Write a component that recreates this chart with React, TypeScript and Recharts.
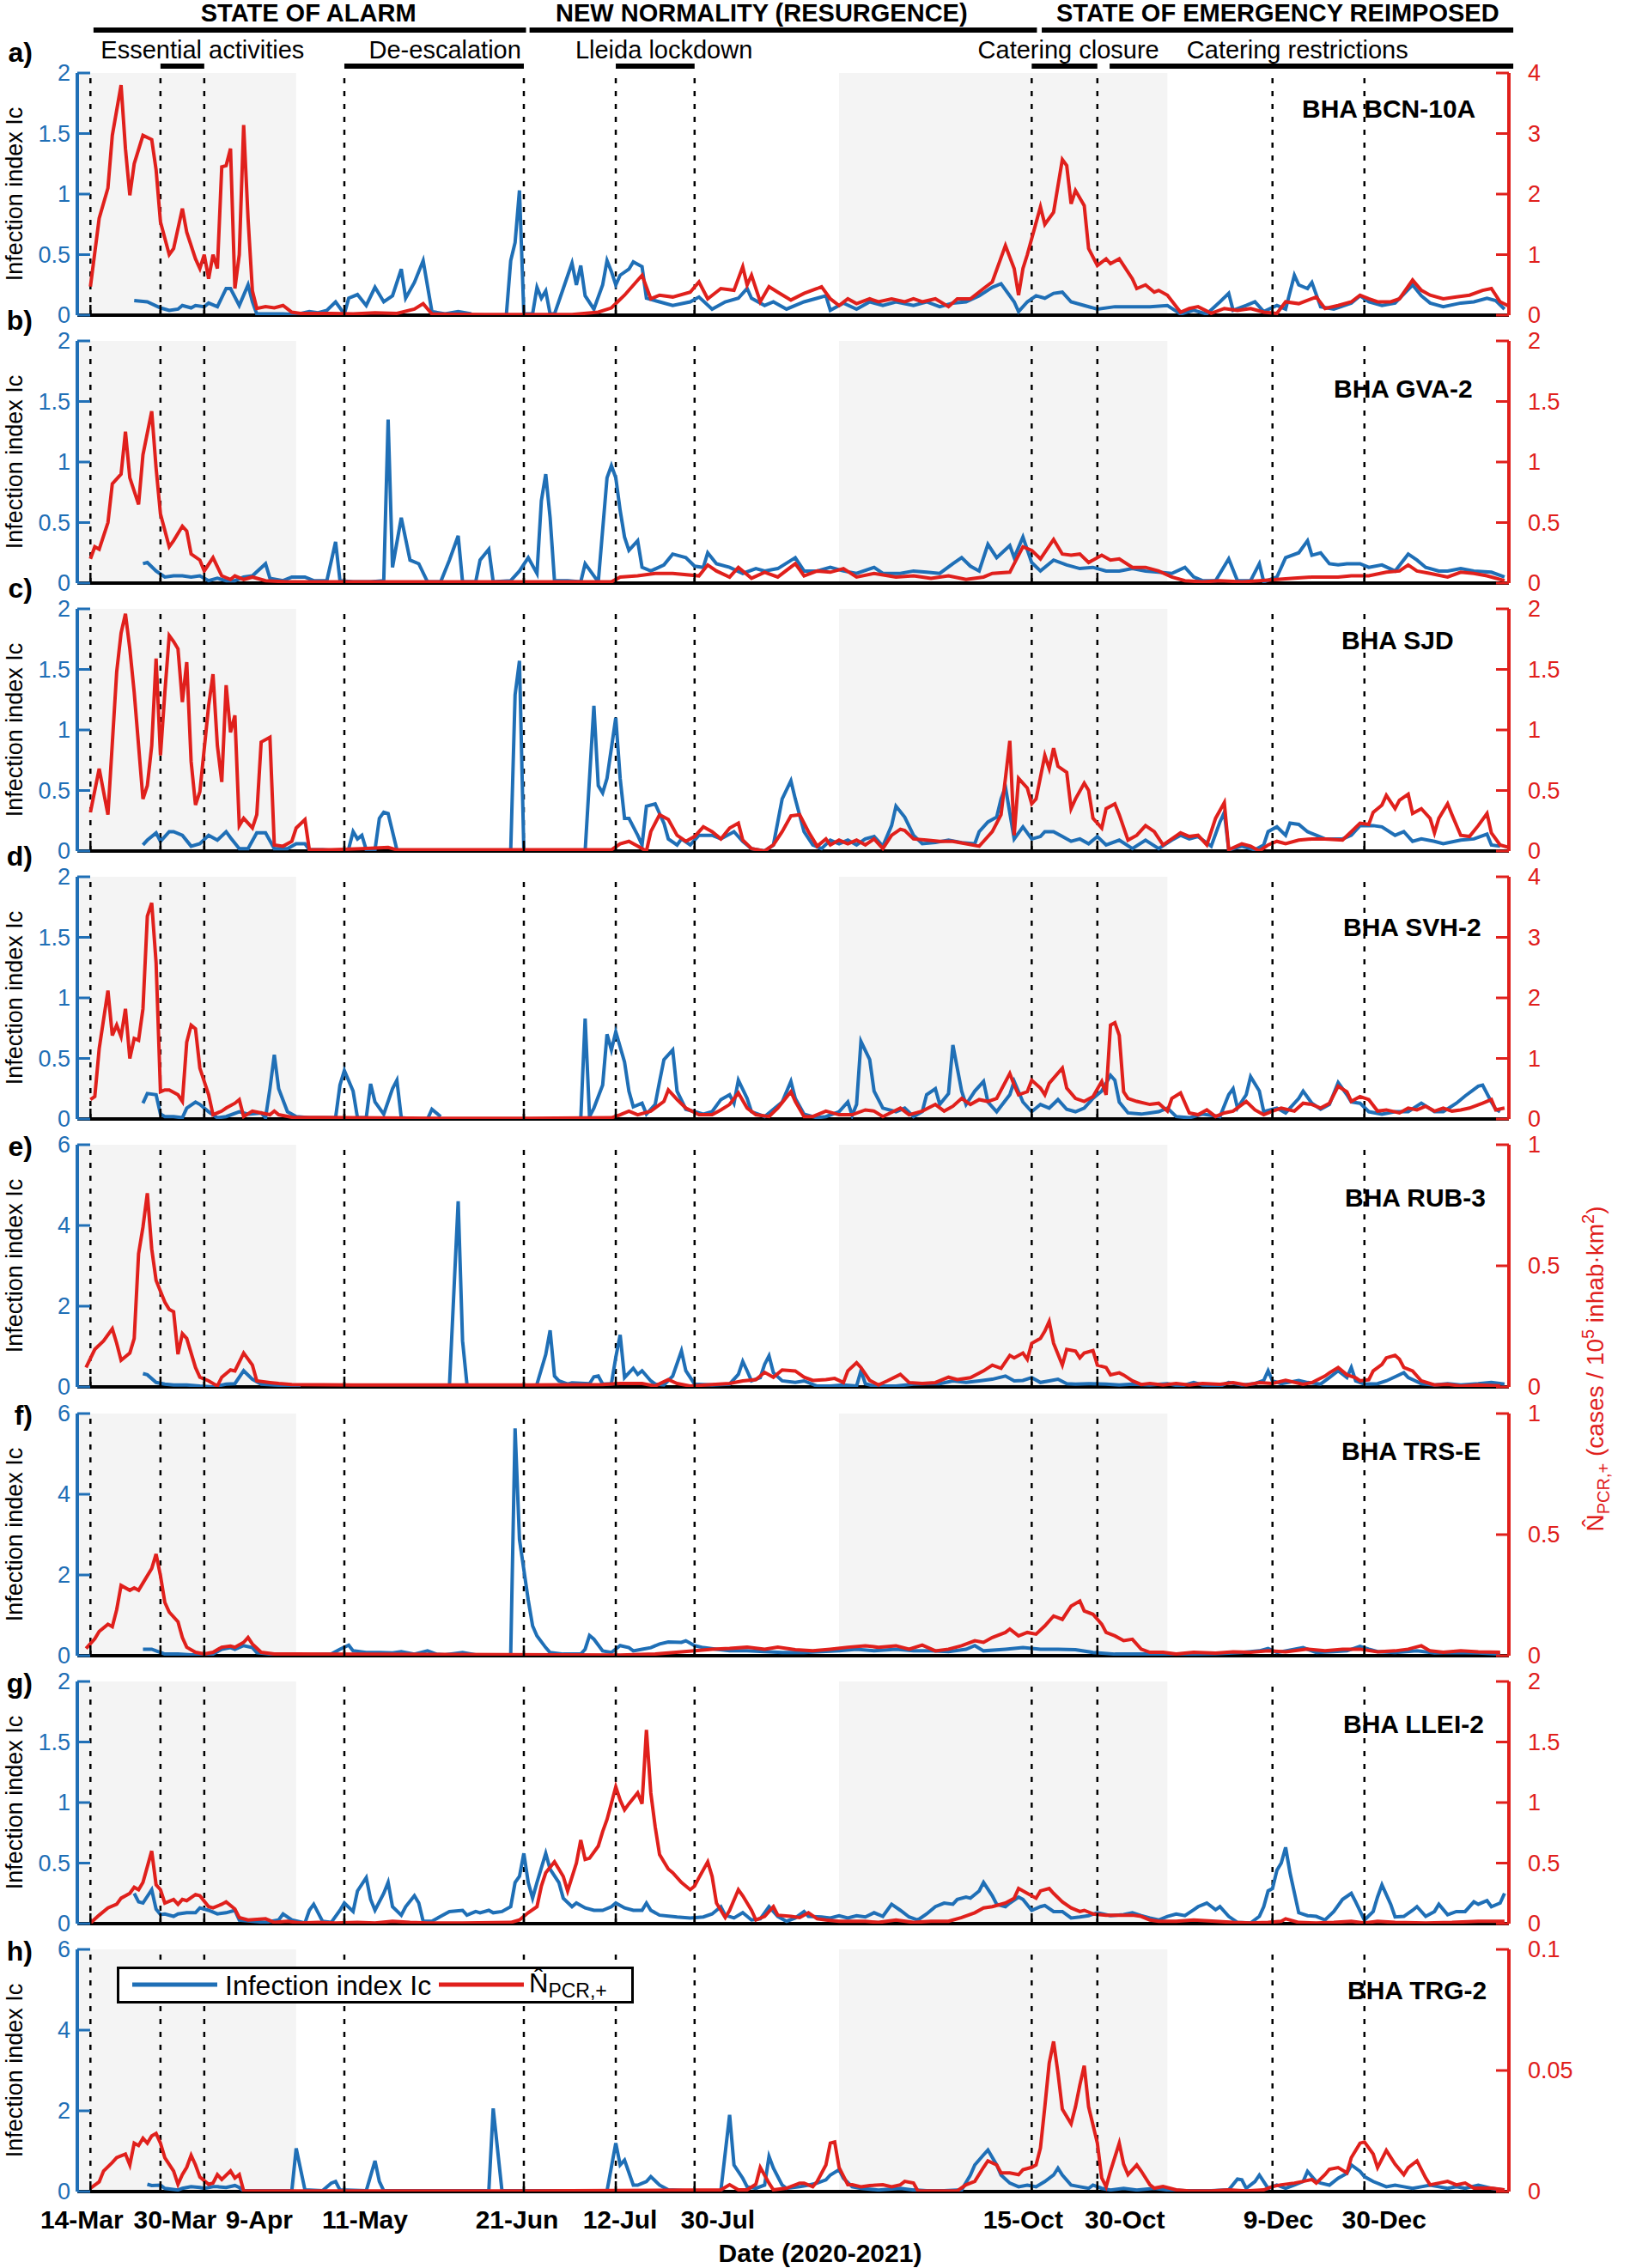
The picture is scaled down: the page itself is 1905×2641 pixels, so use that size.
import React from 'react';
import { ComposedChart, Line, XAxis, YAxis, ReferenceLine, ReferenceArea, Legend } from 'recharts';

type Pt = [number, number | null];

// days counted from 14-Mar-2020
const TICK_DAYS = [0, 16, 26, 58, 99, 120, 138, 215, 230, 270, 291];
const TICK_LABELS = ['14-Mar', '30-Mar', '9-Apr', '11-May', '21-Jun', '12-Jul', '30-Jul', '15-Oct', '30-Oct', '9-Dec', '30-Dec'];
const SHADED: [number, number][] = [[-3, 47], [171, 246]];

const PERIODS = ['STATE OF ALARM', 'NEW NORMALITY (RESURGENCE)', 'STATE OF EMERGENCY REIMPOSED'];
const PERIOD_SPANS: [number, number][] = [[0.7, 99.5], [100.3, 216.2], [217.3, 325]];
const PERIOD_MID = [49.8, 153.3, 271.2];
const MEASURES = ['Essential activities', 'De-escalation', 'Lleida lockdown', 'Catering closure', 'Catering restrictions'];
const MEASURE_SPANS: [number, number][] = [[16, 26], [58, 99], [120, 138], [215, 230], [232.8, 325]];
const MEASURE_MID = [25.6, 81, 131, 223.4, 275.7];

const bcnIc: Pt[] = [[10,0.12],[13,0.11],[16,0.06],[18,0.04],[20,0.05],[21,0.08],[23,0.06],[24,0.08],[26,0.07],[27,0.1],[29,0.07],[31,0.22],[32,0.22],[34,0.08],[36,0.25],[37,0.11],[38,0.01],[44,0.01],[47,0.005],[50,0.03],[52,0.02],[54,0.04],[56,0.11],[58,0.01],[59,0.14],[61,0.17],[63,0.08],[65,0.23],[67,0.11],[69,0.16],[71,0.38],[72,0.14],[74,0.27],[76,0.45],[78,0.03],[81,0.01],[84,0.03],[87,0.01],[88,null],[95,0.0],[96,0.45],[97,0.6],[98,1.03],[99,0.01],[101,0.01],[102,0.23],[103,0.14],[104,0.2],[105,0.01],[106,0.01],[108,0.22],[110,0.43],[111,0.25],[112,0.41],[113,0.16],[115,0.05],[117,0.25],[118,0.45],[119,0.36],[120,0.25],[121,0.33],[123,0.38],[124,0.44],[126,0.4],[127,0.14],[130,0.11],[133,0.08],[137,0.11],[139,0.15],[142,0.05],[145,0.11],[148,0.14],[150,0.22],[151,0.14],[154,0.08],[156,0.11],[159,0.05],[163,0.11],[166,0.14],[168,0.16],[169,0.04],[172,0.1],[175,0.05],[178,0.11],[181,0.08],[184,0.11],[188,0.08],[191,0.11],[194,0.07],[197,0.1],[200,0.11],[203,0.16],[206,0.23],[208,0.26],[211,0.11],[212,0.03],[214,0.11],[216,0.16],[218,0.14],[220,0.18],[222,0.19],[224,0.11],[227,0.08],[230,0.05],[234,0.07],[238,0.07],[242,0.07],[246,0.08],[249,0.01],[252,0.04],[255,0.01],[258,0.11],[260,0.18],[261,0.04],[264,0.08],[266,0.11],[268,0.03],[271,0.08],[273,0.05],[275,0.33],[276,0.25],[278,0.22],[279,0.27],[281,0.07],[284,0.05],[288,0.1],[290,0.16],[292,0.11],[295,0.08],[298,0.1],[302,0.25],[304,0.16],[306,0.1],[309,0.07],[313,0.1],[316,0.11],[319,0.14],[321,0.12],[323,0.05]];
const bcnN: Pt[] = [[0,0.47],[2,1.6],[4,2.1],[5,2.97],[7,3.8],[8,2.75],[9,1.98],[10,2.5],[12,2.97],[14,2.9],[15,2.4],[16,1.54],[18,1.0],[19,1.1],[21,1.76],[22,1.37],[24,0.93],[25,0.77],[26,1.0],[27,0.6],[28,1.0],[29,0.77],[30,2.45],[31,2.47],[32,2.75],[33,0.44],[34,1.0],[35,3.14],[36,1.6],[37,0.4],[38,0.11],[40,0.14],[42,0.12],[44,0.16],[46,0.05],[48,0.03],[55,0.03],[60,0.02],[65,0.04],[70,0.03],[74,0.1],[76,0.19],[78,0.02],[90,0.01],[100,0.01],[110,0.01],[116,0.05],[119,0.12],[122,0.33],[126,0.66],[128,0.27],[130,0.33],[133,0.3],[137,0.38],[139,0.55],[141,0.27],[144,0.44],[147,0.41],[149,0.8],[150,0.5],[151,0.66],[153,0.22],[155,0.47],[157,0.38],[160,0.25],[163,0.36],[166,0.44],[167,0.47],[169,0.27],[171,0.16],[173,0.27],[175,0.19],[178,0.27],[180,0.22],[183,0.27],[186,0.22],[188,0.27],[190,0.22],[193,0.27],[196,0.14],[198,0.27],[201,0.27],[204,0.44],[206,0.55],[209,1.15],[211,0.77],[212,0.33],[213,0.77],[214,1.0],[217,1.79],[218,1.5],[220,1.7],[222,2.57],[223,2.47],[224,1.84],[225,2.06],[227,1.81],[228,1.1],[230,0.82],[232,0.93],[233,0.85],[235,0.93],[238,0.6],[239,0.44],[241,0.5],[243,0.38],[244,0.41],[246,0.33],[249,0.05],[251,0.11],[253,0.14],[256,0.03],[259,0.11],[262,0.08],[265,0.11],[268,0.05],[271,0.03],[273,0.22],[276,0.19],[280,0.3],[282,0.11],[285,0.16],[288,0.22],[290,0.33],[292,0.27],[294,0.22],[297,0.22],[299,0.27],[302,0.58],[304,0.41],[306,0.33],[309,0.27],[312,0.3],[315,0.33],[318,0.41],[320,0.44],[322,0.22],[324,0.15]];

const gvaIc: Pt[] = [[12,0.16],[13,0.17],[15,0.1],[17,0.05],[19,0.06],[21,0.06],[23,0.05],[25,0.06],[27,0.02],[29,0.04],[31,0.02],[33,0.02],[35,0.05],[37,0.06],[40,0.16],[41,0.04],[44,0.02],[46,0.05],[49,0.05],[51,0.02],[54,0.02],[56,0.34],[57,0.02],[60,0.01],[64,0.01],[67,0.02],[68,1.35],[69,0.13],[71,0.54],[73,0.19],[75,0.16],[77,0.01],[80,0.01],[82,0.19],[84,0.39],[85,0.01],[88,0.01],[89,0.19],[91,0.28],[92,0.01],[96,0.02],[98,0.1],[100,0.21],[102,0.08],[103,0.68],[104,0.9],[105,0.54],[106,0.02],[109,0.02],[112,0.01],[113,0.16],[116,0.01],[118,0.87],[119,0.97],[120,0.87],[121,0.6],[122,0.38],[123,0.27],[125,0.35],[126,0.13],[128,0.1],[131,0.15],[133,0.24],[136,0.21],[138,0.14],[140,0.13],[141,0.25],[143,0.16],[146,0.13],[149,0.08],[152,0.12],[154,0.1],[157,0.12],[161,0.21],[163,0.1],[166,0.1],[169,0.13],[172,0.1],[175,0.08],[179,0.13],[181,0.08],[185,0.08],[188,0.1],[191,0.09],[194,0.08],[197,0.16],[199,0.21],[201,0.14],[203,0.1],[205,0.32],[207,0.21],[210,0.31],[211,0.21],[213,0.38],[215,0.17],[217,0.1],[220,0.19],[223,0.15],[226,0.12],[229,0.13],[232,0.1],[235,0.1],[238,0.12],[241,0.1],[244,0.09],[247,0.08],[250,0.13],[252,0.05],[254,0.02],[257,0.02],[260,0.2],[262,0.02],[265,0.02],[267,0.16],[268,0.01],[271,0.05],[273,0.21],[276,0.25],[278,0.35],[279,0.23],[281,0.25],[283,0.16],[285,0.15],[287,0.16],[290,0.16],[292,0.13],[295,0.15],[298,0.1],[301,0.24],[303,0.19],[305,0.13],[308,0.1],[310,0.1],[313,0.12],[316,0.1],[320,0.09],[323,0.05]];
const gvaN: Pt[] = [[0,0.2],[1,0.3],[2,0.28],[4,0.5],[5,0.82],[7,0.9],[8,1.25],[9,0.87],[11,0.65],[12,1.06],[14,1.42],[15,0.95],[16,0.57],[18,0.3],[19,0.35],[21,0.47],[22,0.43],[23,0.24],[25,0.19],[26,0.1],[28,0.21],[30,0.06],[32,0.03],[33,0.06],[35,0.03],[37,0.05],[40,0.02],[45,0.01],[60,0.01],[80,0.01],[100,0.01],[119,0.01],[121,0.05],[125,0.06],[129,0.08],[133,0.08],[139,0.06],[141,0.15],[143,0.1],[146,0.05],[148,0.13],[151,0.04],[154,0.09],[157,0.05],[161,0.16],[163,0.06],[166,0.1],[169,0.09],[172,0.12],[175,0.05],[179,0.08],[184,0.05],[188,0.06],[192,0.04],[196,0.06],[200,0.03],[204,0.05],[206,0.08],[210,0.09],[213,0.3],[215,0.27],[217,0.2],[220,0.36],[222,0.24],[224,0.23],[226,0.24],[228,0.17],[231,0.23],[233,0.19],[235,0.2],[238,0.13],[241,0.13],[244,0.1],[247,0.05],[250,0.02],[254,0.01],[258,0.02],[263,0.01],[267,0.02],[271,0.03],[275,0.04],[279,0.05],[285,0.05],[288,0.06],[292,0.06],[296,0.09],[299,0.1],[301,0.15],[303,0.1],[306,0.08],[310,0.05],[313,0.09],[316,0.08],[319,0.06],[323,0.02]];

const sjdIc: Pt[] = [[12,0.05],[13,0.09],[15,0.15],[16,0.08],[18,0.16],[19,0.16],[21,0.13],[23,0.04],[25,0.06],[27,0.13],[29,0.09],[31,0.16],[32,0.11],[34,0.02],[36,0.02],[38,0.15],[40,0.15],[42,0.02],[45,0.02],[47,0.06],[49,0.06],[50,0.01],[53,0.01],[57,0.0],[59,0.02],[60,0.16],[61,0.1],[62,0.13],[63,0.01],[65,0.01],[66,0.27],[67,0.32],[68,0.31],[70,0.01],[72,null],[96,0.0],[97,1.29],[98,1.57],[99,0.0],[100,null],[113,0.0],[115,1.2],[116,0.54],[117,0.48],[118,0.6],[120,1.1],[121,0.6],[122,0.27],[123,0.27],[125,0.13],[126,0.05],[127,0.37],[129,0.39],[131,0.23],[132,0.1],[134,0.05],[135,0.1],[137,0.05],[139,0.13],[142,0.13],[144,0.1],[147,0.16],[149,0.08],[151,0.02],[154,0.0],[156,0.05],[158,0.43],[160,0.58],[161,0.43],[163,0.16],[165,0.05],[167,0.02],[169,0.09],[171,0.06],[173,0.09],[175,0.05],[177,0.1],[179,0.12],[181,0.04],[183,0.21],[184,0.37],[186,0.28],[188,0.13],[190,0.06],[193,0.07],[196,0.09],[199,0.07],[202,0.06],[203,0.16],[205,0.24],[207,0.28],[208,0.43],[209,0.53],[211,0.1],[213,0.2],[215,0.1],[217,0.12],[218,0.16],[220,0.16],[222,0.12],[224,0.08],[226,0.1],[228,0.06],[230,0.12],[232,0.05],[235,0.09],[238,0.02],[241,0.09],[244,0.02],[247,0.09],[249,0.13],[251,0.1],[253,0.12],[256,0.04],[258,0.24],[259,0.32],[260,0.01],[263,0.04],[266,0.01],[268,0.05],[269,0.16],[271,0.2],[273,0.13],[274,0.23],[276,0.22],[278,0.16],[280,0.13],[282,0.1],[286,0.1],[288,0.13],[290,0.21],[293,0.21],[295,0.2],[298,0.13],[300,0.16],[302,0.08],[304,0.1],[307,0.08],[309,0.06],[313,0.09],[316,0.1],[319,0.14],[320,0.05],[322,0.04]];
const sjdN: Pt[] = [[0,0.32],[2,0.68],[4,0.3],[6,1.48],[7,1.8],[8,1.96],[9,1.67],[10,1.31],[12,0.43],[13,0.54],[14,0.87],[15,1.59],[16,0.79],[17,1.31],[18,1.78],[19,1.73],[20,1.67],[21,1.23],[22,1.56],[23,0.74],[24,0.38],[25,0.49],[27,1.2],[28,1.46],[29,0.87],[30,0.57],[31,1.37],[32,0.98],[33,1.12],[34,0.21],[35,0.27],[37,0.19],[38,0.3],[39,0.9],[41,0.94],[42,0.05],[44,0.04],[46,0.08],[47,0.19],[49,0.26],[50,0.01],[55,0.01],[62,0.02],[68,0.03],[70,0.01],[90,0.01],[119,0.01],[121,0.06],[123,0.08],[125,0.04],[127,0.0],[128,0.16],[130,0.3],[132,0.26],[134,0.13],[136,0.08],[138,0.12],[140,0.2],[142,0.16],[144,0.1],[146,0.19],[148,0.23],[149,0.09],[151,0.02],[154,0.0],[156,0.05],[158,0.16],[160,0.29],[162,0.3],[164,0.16],[166,0.04],[168,0.1],[169,0.05],[171,0.09],[173,0.06],[175,0.09],[177,0.05],[179,0.1],[181,0.02],[183,0.13],[185,0.18],[186,0.17],[188,0.1],[191,0.09],[194,0.08],[197,0.08],[200,0.06],[203,0.04],[204,0.08],[206,0.16],[208,0.3],[209,0.6],[210,0.91],[211,0.13],[212,0.6],[214,0.52],[215,0.39],[216,0.43],[218,0.79],[219,0.68],[220,0.85],[221,0.7],[223,0.65],[224,0.35],[225,0.43],[227,0.56],[228,0.5],[229,0.27],[231,0.19],[232,0.35],[234,0.39],[235,0.3],[237,0.09],[239,0.13],[241,0.21],[243,0.16],[245,0.05],[247,0.1],[249,0.15],[251,0.12],[253,0.13],[255,0.05],[257,0.27],[259,0.4],[260,0.01],[263,0.06],[265,0.04],[267,0.0],[269,0.05],[271,0.08],[273,0.06],[276,0.09],[279,0.1],[282,0.1],[286,0.09],[288,0.16],[290,0.23],[292,0.22],[293,0.32],[295,0.38],[296,0.46],[298,0.35],[299,0.42],[301,0.47],[302,0.31],[304,0.35],[306,0.27],[307,0.15],[308,0.27],[310,0.39],[311,0.3],[313,0.13],[315,0.12],[317,0.21],[319,0.31],[320,0.15],[322,0.05],[324,0.03]];

const svhIc: Pt[] = [[12,0.13],[13,0.21],[15,0.2],[16,0.04],[17,0.02],[19,0.02],[21,0.01],[22,0.09],[24,0.14],[25,0.12],[27,0.06],[29,0.01],[31,0.02],[34,0.06],[36,0.04],[39,0.05],[40,0.01],[41,0.25],[42,0.53],[43,0.25],[45,0.06],[47,0.02],[50,0.01],[53,0.01],[56,0.01],[57,0.28],[58,0.4],[60,0.23],[61,0.01],[63,0.01],[64,0.29],[65,0.14],[67,0.04],[69,0.25],[70,0.32],[71,0.01],[74,0.0],[77,0.0],[78,0.08],[80,0.02],[81,null],[112,0.0],[113,0.83],[114,0.02],[115,0.09],[117,0.28],[118,0.7],[119,0.57],[120,0.72],[122,0.47],[123,0.23],[124,0.1],[126,0.13],[127,0.04],[129,0.12],[130,0.31],[131,0.49],[133,0.57],[134,0.23],[136,0.08],[138,0.06],[140,0.04],[142,0.06],[144,0.16],[146,0.2],[147,0.13],[148,0.32],[150,0.17],[151,0.06],[154,0.02],[156,0.08],[158,0.14],[160,0.31],[161,0.17],[163,0.04],[166,0.01],[168,0.02],[171,0.06],[173,0.14],[174,0.03],[175,0.12],[176,0.64],[178,0.49],[179,0.23],[181,0.09],[184,0.06],[186,0.09],[188,0.02],[190,0.06],[191,0.2],[193,0.25],[194,0.12],[196,0.21],[197,0.61],[199,0.23],[200,0.12],[202,0.23],[204,0.31],[205,0.14],[207,0.06],[210,0.2],[211,0.31],[213,0.14],[215,0.06],[217,0.12],[219,0.09],[221,0.16],[223,0.08],[225,0.06],[227,0.09],[229,0.17],[231,0.23],[233,0.36],[234,0.32],[235,0.14],[237,0.05],[240,0.04],[242,0.05],[244,0.06],[246,0.09],[248,0.02],[251,0.01],[254,0.04],[258,0.02],[260,0.2],[261,0.25],[262,0.09],[264,0.2],[265,0.35],[267,0.23],[268,0.06],[271,0.09],[273,0.05],[276,0.17],[277,0.23],[279,0.13],[281,0.08],[283,0.12],[285,0.3],[287,0.2],[288,0.14],[290,0.13],[292,0.06],[295,0.04],[298,0.06],[301,0.06],[304,0.13],[307,0.06],[309,0.06],[312,0.13],[314,0.19],[317,0.27],[318,0.28],[320,0.14],[321,0.08],[322,0.06]];
const svhN: Pt[] = [[0,0.32],[1,0.37],[2,1.16],[4,2.12],[5,1.38],[6,1.55],[7,1.36],[8,1.82],[9,1.0],[10,1.33],[11,1.3],[12,1.82],[13,3.35],[14,3.57],[15,2.58],[16,0.45],[17,0.48],[18,0.48],[20,0.4],[21,0.29],[22,1.27],[23,1.55],[24,1.49],[25,0.84],[27,0.4],[28,0.07],[30,0.13],[31,0.18],[33,0.26],[34,0.32],[35,0.04],[37,0.13],[39,0.1],[41,0.07],[42,0.13],[43,0.07],[46,0.03],[60,0.02],[80,0.01],[100,0.01],[119,0.02],[121,0.07],[123,0.13],[125,0.07],[128,0.13],[131,0.29],[132,0.48],[134,0.32],[136,0.18],[139,0.07],[142,0.07],[144,0.15],[146,0.24],[148,0.43],[150,0.18],[152,0.07],[155,0.04],[157,0.18],[160,0.45],[161,0.29],[163,0.04],[165,0.04],[168,0.13],[171,0.07],[174,0.07],[177,0.15],[179,0.13],[181,0.04],[185,0.18],[187,0.07],[190,0.13],[193,0.24],[195,0.13],[197,0.21],[199,0.34],[201,0.24],[203,0.32],[205,0.29],[207,0.34],[210,0.75],[211,0.56],[212,0.4],[214,0.45],[215,0.64],[217,0.51],[218,0.4],[219,0.59],[222,0.84],[223,0.51],[225,0.34],[227,0.29],[229,0.37],[231,0.62],[232,0.4],[233,1.55],[234,1.59],[235,1.38],[236,0.45],[237,0.34],[239,0.29],[242,0.24],[244,0.26],[246,0.13],[247,0.34],[249,0.43],[251,0.1],[253,0.07],[255,0.15],[257,0.04],[259,0.1],[261,0.13],[264,0.29],[266,0.15],[268,0.07],[270,0.13],[272,0.18],[275,0.13],[277,0.26],[279,0.24],[281,0.18],[283,0.26],[285,0.54],[287,0.45],[288,0.29],[290,0.37],[292,0.32],[294,0.13],[296,0.15],[299,0.1],[301,0.18],[303,0.15],[305,0.21],[307,0.13],[309,0.18],[311,0.13],[313,0.15],[315,0.18],[318,0.26],[320,0.32],[321,0.15],[323,0.18]];

const rubIc: Pt[] = [[12,0.33],[13,0.3],[15,0.11],[17,0.07],[19,0.05],[22,0.05],[25,0.02],[28,0.0],[31,0.07],[33,0.08],[35,0.4],[37,0.19],[39,0.07],[42,0.05],[46,0.02],[48,0.0],[49,null],[82,0.02],[84,4.6],[85,1.14],[86,0.07],[87,null],[102,0.07],[104,0.8],[105,1.4],[106,0.27],[107,0.15],[109,0.07],[110,0.1],[114,0.08],[115,0.25],[116,0.27],[117,0.07],[119,0.08],[120,0.73],[121,1.29],[122,0.23],[123,0.35],[124,0.46],[125,0.31],[126,0.4],[128,0.15],[129,0.07],[131,0.05],[133,0.27],[135,0.89],[136,0.4],[138,0.07],[142,0.05],[146,0.07],[148,0.31],[149,0.63],[150,0.4],[151,0.15],[153,0.23],[154,0.56],[155,0.77],[156,0.35],[158,0.15],[161,0.11],[163,0.15],[166,0.02],[169,0.02],[172,0.05],[175,0.02],[176,0.4],[177,0.08],[179,0.02],[184,0.02],[188,0.07],[191,0.08],[194,0.08],[197,0.15],[200,0.11],[203,0.15],[206,0.19],[209,0.27],[211,0.15],[213,0.16],[215,0.23],[217,0.11],[219,0.15],[221,0.19],[223,0.08],[225,0.07],[228,0.08],[232,0.07],[235,0.05],[238,0.07],[242,0.05],[246,0.08],[249,0.02],[252,0.11],[254,0.05],[258,0.02],[260,0.11],[263,0.05],[266,0.08],[268,0.16],[269,0.4],[270,0.15],[272,0.08],[276,0.16],[278,0.11],[281,0.07],[283,0.23],[285,0.4],[287,0.23],[288,0.48],[289,0.15],[291,0.07],[294,0.08],[296,0.15],[298,0.25],[300,0.35],[301,0.23],[304,0.08],[307,0.05],[310,0.08],[313,0.05],[317,0.08],[320,0.11],[323,0.07]];
const rubN: Pt[] = [[-1,0.08],[1,0.155],[3,0.19],[5,0.24],[6,0.18],[7,0.11],[9,0.14],[10,0.2],[11,0.55],[12,0.66],[13,0.8],[14,0.57],[15,0.44],[17,0.35],[18,0.32],[19,0.31],[20,0.135],[21,0.22],[22,0.2],[24,0.08],[25,0.04],[27,0.025],[29,0.004],[30,0.04],[32,0.07],[33,0.066],[35,0.14],[37,0.09],[38,0.025],[41,0.018],[43,0.014],[46,0.01],[60,0.008],[80,0.008],[100,0.008],[117,0.01],[121,0.014],[126,0.014],[129,0.004],[132,0.03],[134,0.014],[137,0.004],[142,0.01],[146,0.014],[149,0.025],[152,0.03],[154,0.06],[156,0.04],[158,0.07],[161,0.066],[163,0.04],[165,0.027],[168,0.03],[170,0.035],[172,0.018],[173,0.066],[175,0.1],[176,0.08],[178,0.027],[180,0.008],[182,0.025],[185,0.052],[187,0.018],[190,0.014],[193,0.018],[196,0.04],[198,0.03],[201,0.038],[204,0.066],[206,0.09],[208,0.077],[210,0.13],[211,0.12],[213,0.14],[214,0.114],[215,0.18],[217,0.2],[218,0.23],[219,0.27],[220,0.18],[222,0.09],[223,0.155],[225,0.148],[226,0.12],[227,0.14],[229,0.15],[230,0.09],[232,0.08],[233,0.05],[235,0.058],[236,0.049],[238,0.025],[240,0.01],[242,0.014],[245,0.008],[248,0.014],[251,0.008],[254,0.014],[258,0.011],[261,0.018],[264,0.008],[267,0.018],[270,0.014],[273,0.027],[277,0.011],[279,0.018],[282,0.045],[283,0.058],[285,0.08],[287,0.05],[289,0.038],[290,0.025],[292,0.03],[293,0.066],[295,0.093],[296,0.12],[298,0.13],[299,0.114],[300,0.08],[302,0.066],[304,0.025],[307,0.008],[310,0.011],[313,0.004],[317,0.008],[322,0.004]];

const trsIc: Pt[] = [[12,0.16],[14,0.16],[15,0.12],[17,0.04],[20,0.04],[23,0.02],[26,0.02],[28,0.04],[30,0.16],[32,0.2],[33,0.16],[35,0.25],[37,0.2],[38,0.08],[41,0.04],[45,0.02],[50,0.02],[55,0.04],[57,0.16],[59,0.26],[60,0.12],[63,0.08],[66,0.08],[69,0.07],[71,0.1],[74,0.04],[77,0.12],[79,0.04],[81,0.02],[85,0.08],[88,0.02],[96,0.02],[97,5.63],[98,2.88],[100,1.38],[101,0.74],[102,0.49],[104,0.2],[105,0.08],[108,0.04],[112,0.04],[113,0.16],[114,0.5],[115,0.41],[117,0.12],[119,0.08],[121,0.25],[123,0.2],[124,0.12],[126,0.16],[128,0.2],[130,0.29],[132,0.34],[135,0.33],[136,0.37],[138,0.25],[140,0.2],[143,0.16],[146,0.12],[150,0.12],[154,0.1],[158,0.08],[163,0.08],[167,0.1],[171,0.12],[175,0.16],[179,0.12],[184,0.16],[188,0.12],[192,0.12],[196,0.1],[200,0.16],[202,0.25],[204,0.12],[209,0.16],[213,0.2],[217,0.16],[221,0.16],[225,0.15],[229,0.08],[234,0.04],[238,0.04],[244,0.04],[250,0.04],[257,0.05],[263,0.08],[267,0.12],[269,0.18],[271,0.08],[273,0.12],[277,0.2],[280,0.08],[284,0.1],[287,0.12],[290,0.23],[292,0.16],[294,0.1],[298,0.08],[303,0.12],[307,0.07],[311,0.08],[317,0.07],[322,0.04]];
const trsN: Pt[] = [[-1,0.03],[1,0.07],[2,0.1],[4,0.13],[5,0.12],[6,0.19],[7,0.29],[9,0.27],[10,0.28],[11,0.27],[12,0.3],[14,0.36],[15,0.42],[16,0.33],[17,0.22],[18,0.18],[20,0.14],[21,0.075],[22,0.035],[24,0.014],[26,0.007],[28,0.014],[30,0.035],[32,0.04],[33,0.035],[35,0.055],[36,0.075],[37,0.048],[39,0.014],[42,0.007],[46,0.007],[80,0.005],[121,0.003],[129,0.007],[138,0.02],[142,0.027],[146,0.03],[150,0.035],[154,0.027],[157,0.035],[161,0.025],[165,0.02],[169,0.027],[173,0.035],[177,0.041],[180,0.035],[184,0.041],[187,0.027],[190,0.044],[193,0.02],[196,0.027],[199,0.041],[202,0.062],[204,0.055],[206,0.075],[209,0.096],[210,0.11],[212,0.082],[214,0.096],[216,0.089],[218,0.123],[220,0.164],[222,0.15],[224,0.205],[226,0.226],[227,0.185],[229,0.171],[231,0.13],[232,0.096],[234,0.082],[236,0.062],[238,0.068],[240,0.027],[242,0.014],[245,0.014],[248,0.007],[252,0.014],[257,0.011],[261,0.016],[265,0.014],[269,0.02],[273,0.016],[278,0.027],[282,0.02],[286,0.027],[290,0.027],[294,0.016],[298,0.02],[301,0.027],[304,0.041],[306,0.02],[309,0.014],[313,0.02],[317,0.016],[322,0.014]];

const lleiIc: Pt[] = [[10,0.25],[11,0.18],[12,0.17],[14,0.28],[15,0.12],[16,0.075],[17,0.08],[19,0.06],[20,0.08],[22,0.09],[24,0.09],[25,0.13],[27,0.11],[29,0.08],[31,0.09],[33,0.11],[34,0.03],[37,0.02],[40,0.01],[43,0.03],[44,0.08],[46,0.03],[49,0.005],[50,0.11],[51,0.16],[53,0.02],[55,0.01],[57,0.11],[58,0.17],[60,0.1],[61,0.27],[63,0.38],[64,0.2],[65,0.11],[67,0.25],[68,0.34],[69,0.14],[71,0.07],[72,0.14],[74,0.23],[75,0.17],[76,0.02],[78,0.02],[80,0.06],[82,0.1],[85,0.11],[86,0.07],[88,0.1],[89,0.09],[91,0.11],[92,0.09],[94,0.1],[96,0.14],[97,0.34],[98,0.39],[99,0.58],[100,0.34],[101,0.21],[102,0.34],[104,0.58],[105,0.45],[107,0.34],[108,0.21],[110,0.14],[111,0.17],[113,0.13],[115,0.11],[117,0.11],[119,0.14],[120,0.17],[122,0.13],[124,0.11],[126,0.11],[127,0.17],[128,0.11],[130,0.07],[134,0.055],[137,0.047],[140,0.055],[142,0.08],[144,0.14],[145,0.07],[147,0.047],[149,0.09],[151,0.03],[153,0.04],[154,0.09],[155,0.14],[157,0.06],[159,0.02],[161,0.047],[163,0.1],[164,0.06],[167,0.055],[169,0.047],[171,0.066],[173,0.047],[175,0.066],[177,0.055],[179,0.09],[181,0.06],[183,0.16],[185,0.11],[187,0.055],[189,0.03],[191,0.08],[193,0.14],[195,0.17],[197,0.16],[198,0.2],[200,0.22],[201,0.21],[203,0.27],[204,0.34],[206,0.23],[207,0.16],[209,0.14],[210,0.17],[212,0.22],[213,0.2],[215,0.11],[217,0.14],[218,0.15],[220,0.1],[222,0.1],[224,0.047],[226,0.055],[228,0.066],[230,0.09],[233,0.066],[236,0.074],[238,0.09],[240,0.066],[242,0.047],[244,0.03],[246,0.06],[248,0.08],[250,0.066],[252,0.115],[253,0.14],[255,0.17],[257,0.115],[258,0.14],[260,0.06],[262,0.01],[265,0.005],[267,0.06],[268,0.14],[269,0.27],[270,0.29],[271,0.44],[272,0.5],[273,0.63],[274,0.42],[276,0.09],[278,0.066],[280,0.06],[282,0.03],[284,0.1],[286,0.2],[288,0.25],[289,0.18],[291,0.03],[293,0.1],[294,0.22],[295,0.32],[297,0.16],[298,0.055],[300,0.06],[302,0.11],[303,0.14],[305,0.06],[307,0.1],[308,0.16],[310,0.074],[312,0.1],[314,0.1],[316,0.18],[317,0.16],[319,0.19],[320,0.14],[322,0.17],[323,0.25]];
const lleiN: Pt[] = [[0,0.005],[2,0.07],[4,0.13],[6,0.16],[7,0.21],[9,0.25],[10,0.3],[11,0.28],[12,0.34],[14,0.6],[15,0.32],[16,0.28],[17,0.17],[19,0.2],[20,0.16],[21,0.2],[22,0.19],[24,0.24],[25,0.23],[27,0.14],[28,0.13],[30,0.16],[31,0.18],[33,0.12],[34,0.05],[36,0.03],[40,0.04],[42,0.01],[45,0.02],[48,0.005],[52,0.01],[56,0.005],[61,0.01],[65,0.005],[69,0.02],[73,0.01],[77,0.005],[85,0.005],[96,0.01],[98,0.03],[100,0.09],[102,0.14],[103,0.31],[104,0.42],[106,0.51],[107,0.45],[108,0.39],[109,0.27],[111,0.5],[112,0.69],[113,0.53],[114,0.54],[116,0.64],[117,0.76],[118,0.86],[120,1.13],[121,1.02],[122,0.94],[123,0.99],[125,1.08],[126,0.99],[127,1.6],[128,1.08],[129,0.8],[130,0.57],[132,0.45],[133,0.42],[135,0.34],[137,0.28],[138,0.31],[139,0.38],[141,0.51],[142,0.39],[143,0.17],[145,0.05],[146,0.11],[148,0.28],[149,0.23],[151,0.11],[152,0.03],[154,0.06],[156,0.14],[157,0.07],[160,0.06],[162,0.05],[164,0.09],[166,0.04],[168,0.03],[171,0.02],[174,0.02],[177,0.02],[180,0.01],[184,0.03],[188,0.01],[192,0.02],[196,0.02],[199,0.05],[202,0.09],[204,0.13],[206,0.14],[209,0.17],[211,0.21],[212,0.29],[214,0.25],[216,0.21],[217,0.27],[219,0.29],[220,0.25],[222,0.18],[224,0.13],[226,0.1],[227,0.11],[229,0.08],[232,0.07],[234,0.07],[236,0.07],[238,0.07],[240,0.06],[242,0.03],[244,0.02],[248,0.02],[252,0.03],[257,0.02],[261,0.01],[265,0.005],[269,0.01],[272,0.02],[273,0.04],[276,0.01],[280,0.005],[284,0.01],[288,0.02],[291,0.005],[294,0.02],[298,0.01],[305,0.005],[311,0.01],[317,0.02],[323,0.02]];

const trgIc: Pt[] = [[13,0.18],[14,0.15],[16,0.16],[17,0.08],[20,0.04],[21,0.08],[23,0.12],[25,0.1],[26,0.08],[28,0.12],[29,0.12],[31,0.1],[33,0.15],[34,0.1],[35,0.02],[46,0.02],[47,1.07],[49,0.04],[53,0.02],[55,0.21],[56,0.25],[57,0.04],[63,0.02],[65,0.76],[66,0.25],[67,0.02],[91,0.02],[92,2.06],[94,0.02],[118,0.02],[120,1.2],[121,0.66],[122,0.78],[124,0.16],[125,0.16],[127,0.25],[128,0.37],[130,0.16],[132,0.04],[136,0.02],[144,0.02],[146,1.9],[147,0.66],[149,0.33],[150,0.12],[152,0.08],[154,0.16],[155,0.87],[156,0.58],[158,0.16],[159,0.08],[162,0.12],[164,0.16],[166,0.21],[168,0.29],[169,0.41],[171,0.54],[172,0.33],[174,0.12],[176,0.08],[180,0.04],[185,0.08],[188,0.04],[191,0.02],[195,0.02],[199,0.04],[201,0.41],[202,0.66],[204,0.91],[205,1.03],[207,0.66],[208,0.41],[210,0.21],[212,0.12],[214,0.16],[216,0.12],[218,0.25],[220,0.41],[221,0.58],[222,0.41],[224,0.16],[226,0.12],[228,0.08],[229,0.16],[231,0.08],[233,0.04],[236,0.08],[239,0.04],[243,0.08],[246,0.04],[250,0.02],[256,0.02],[260,0.04],[262,0.31],[263,0.29],[264,0.08],[266,0.25],[267,0.41],[269,0.08],[271,0.16],[273,0.08],[275,0.16],[277,0.25],[278,0.5],[280,0.25],[281,0.21],[283,0.16],[285,0.33],[287,0.45],[288,0.66],[290,0.5],[291,0.37],[293,0.25],[296,0.12],[298,0.16],[300,0.12],[302,0.08],[304,0.12],[306,0.16],[308,0.12],[310,0.08],[312,0.12],[314,0.08],[317,0.16],[320,0.08],[323,0.04]];
const trgN: Pt[] = [[0,0.0014],[2,0.004],[3,0.0085],[5,0.012],[6,0.014],[8,0.0155],[9,0.011],[10,0.02],[11,0.019],[12,0.022],[13,0.02],[14,0.023],[15,0.024],[16,0.02],[17,0.014],[19,0.0085],[20,0.003],[21,0.007],[22,0.01],[23,0.015],[24,0.011],[25,0.006],[27,0.003],[28,0.0035],[29,0.007],[30,0.005],[32,0.0085],[33,0.0056],[34,0.007],[35,0.0003],[60,0.0003],[100,0.0003],[144,0.0007],[146,0.0028],[148,0.0007],[150,0.0007],[152,0.003],[153,0.01],[155,0.0035],[156,0.0007],[159,0.0014],[162,0.0035],[163,0.0035],[165,0.002],[166,0.0042],[168,0.011],[169,0.02],[170,0.0205],[171,0.01],[173,0.0028],[174,0.0028],[176,0.002],[178,0.0025],[181,0.0028],[183,0.002],[185,0.0028],[186,0.0042],[188,0.0035],[189,0.0003],[198,0.0003],[200,0.0028],[202,0.0042],[204,0.01],[205,0.0127],[207,0.011],[208,0.0077],[210,0.0077],[212,0.007],[213,0.009],[215,0.01],[216,0.011],[217,0.018],[218,0.035],[219,0.053],[220,0.062],[221,0.049],[222,0.034],[224,0.028],[225,0.035],[226,0.044],[227,0.052],[228,0.035],[230,0.02],[231,0.0056],[232,0.002],[233,0.0085],[235,0.02],[236,0.0113],[237,0.007],[239,0.011],[240,0.0085],[242,0.0028],[243,0.0014],[245,0.0021],[248,0.0007],[251,0.0003],[256,0.0003],[260,0.0007],[264,0.0003],[268,0.0007],[270,0.0021],[272,0.0028],[275,0.0035],[277,0.0042],[279,0.005],[280,0.0035],[282,0.007],[283,0.0092],[285,0.0099],[287,0.0077],[288,0.014],[290,0.02],[291,0.0205],[293,0.0155],[294,0.0099],[296,0.017],[298,0.0113],[300,0.007],[301,0.0099],[303,0.0127],[305,0.0056],[306,0.0028],[308,0.0035],[310,0.0042],[312,0.0028],[314,0.0035],[316,0.0014],[320,0.0014],[323,0.0007]];

const BLUE = '#1f6fb6';
const RED = '#e0201c';
const SHADE = '#f4f4f4';
const FONT = '"Liberation Sans", Arial, Helvetica, sans-serif';

const W = 1905;
const H = 2641;
const PLOT_LEFT = 90;
const PLOT_RIGHT = 1757;
const DAY_MIN = -3;
const DAY_MAX = 324;
const M_TOP = 24;
const PLOT_H = 282;
const panelTop = (i: number) => Math.round(85 + 312.1 * i);
const xOf = (d: number) => PLOT_LEFT + ((d - DAY_MIN) / (DAY_MAX - DAY_MIN)) * (PLOT_RIGHT - PLOT_LEFT);

// small shifts of the date labels, as placed in the original figure
const LABEL_NUDGE = [-10, 17, 64, 24, -8, 5, 27, -10, 32, 7, 23];

interface Panel {
  letter: string;
  station: string;
  sx: number;
  sy: number;
  ic: Pt[];
  n: Pt[];
  lMax: number;
  lTicks: number[];
  rMax: number;
  rTicks: number[];
}

const T2 = [0, 0.5, 1, 1.5, 2];
const T4 = [0, 1, 2, 3, 4];
const T6 = [0, 2, 4, 6];
const T1 = [0, 0.5, 1];

const PANELS: Panel[] = [
  { letter: 'a)', station: 'BHA BCN-10A', sx: 1516, sy: 41, ic: bcnIc, n: bcnN, lMax: 2, lTicks: T2, rMax: 4, rTicks: T4 },
  { letter: 'b)', station: 'BHA GVA-2', sx: 1553, sy: 55, ic: gvaIc, n: gvaN, lMax: 2, lTicks: T2, rMax: 2, rTicks: T2 },
  { letter: 'c)', station: 'BHA SJD', sx: 1562, sy: 36, ic: sjdIc, n: sjdN, lMax: 2, lTicks: T2, rMax: 2, rTicks: T2 },
  { letter: 'd)', station: 'BHA SVH-2', sx: 1564, sy: 58, ic: svhIc, n: svhN, lMax: 2, lTicks: T2, rMax: 4, rTicks: T4 },
  { letter: 'e)', station: 'BHA RUB-3', sx: 1566, sy: 61, ic: rubIc, n: rubN, lMax: 6, lTicks: T6, rMax: 1, rTicks: T1 },
  { letter: 'f)', station: 'BHA TRS-E', sx: 1562, sy: 43, ic: trsIc, n: trsN, lMax: 6, lTicks: T6, rMax: 1, rTicks: T1 },
  { letter: 'g)', station: 'BHA LLEI-2', sx: 1564, sy: 49, ic: lleiIc, n: lleiN, lMax: 2, lTicks: T2, rMax: 2, rTicks: T2 },
  { letter: 'h)', station: 'BHA TRG-2', sx: 1569, sy: 47, ic: trgIc, n: trgN, lMax: 6, lTicks: T6, rMax: 0.1, rTicks: [0, 0.05, 0.1] },
];

const rows = (pts: Pt[]) => pts.map(([d, v]) => ({ d, v }));

const LeftTick = (props: any) => {
  const { x, y, payload } = props;
  return (
    <g>
      <line x1={x} x2={x + 15} y1={y} y2={y} stroke={BLUE} strokeWidth={3} />
      <text x={x - 8} y={y} textAnchor="end" dominantBaseline="central" fill={BLUE} fontSize={27} fontFamily={FONT}>
        {String(payload.value)}
      </text>
    </g>
  );
};

const RightTick = (props: any) => {
  const { x, y, payload } = props;
  return (
    <g>
      <line x1={x} x2={x - 15} y1={y} y2={y} stroke={RED} strokeWidth={3} />
      <text x={x + 22} y={y} textAnchor="start" dominantBaseline="central" fill={RED} fontSize={27} fontFamily={FONT}>
        {String(payload.value)}
      </text>
    </g>
  );
};

const TopTick = (props: any) => {
  const { x, y } = props;
  return <line x1={x} x2={x} y1={y} y2={y + 12} stroke="#000" strokeWidth={2.5} />;
};

const BottomTick = (props: any) => {
  const { x, y, payload, showLabel } = props;
  const i = TICK_DAYS.indexOf(payload.value);
  return (
    <g>
      <line x1={x} x2={x} y1={y} y2={y - 12} stroke="#000" strokeWidth={2.5} />
      {showLabel && i >= 0 && (
        <text x={x + LABEL_NUDGE[i]} y={y + 43} textAnchor="middle" fontSize={30} fontWeight="bold" fontFamily={FONT} fill="#000">
          {TICK_LABELS[i]}
        </text>
      )}
    </g>
  );
};

const LegendBox = () => (
  <div style={{ position: 'relative', width: 602, height: 43, boxSizing: 'border-box', border: '3px solid #000', background: '#fff', fontFamily: FONT }}>
    <svg width={596} height={37} style={{ position: 'absolute', left: 0, top: 0, overflow: 'visible' }}>
      <line x1={15} x2={114} y1={18} y2={18} stroke={BLUE} strokeWidth={5} />
      <text x={123} y={30} fontSize={32} fontFamily={FONT} fill="#000">Infection index Ic</text>
      <line x1={372} x2={471} y1={18} y2={18} stroke={RED} strokeWidth={5} />
      <text x={477} y={27} fontSize={31} fontFamily={FONT} fill="#000">
        {'N\u0302'}
        <tspan dy={6} fontSize={23}>PCR,+</tspan>
      </text>
    </svg>
  </div>
);

const PanelChart = ({ p, index }: { p: Panel; index: number }) => {
  const top = panelTop(index);
  const last = index === PANELS.length - 1;
  const bottomH = last ? 60 : 22;
  return (
    <div style={{ position: 'absolute', left: 0, top: top - M_TOP }}>
      <ComposedChart width={W} height={M_TOP + PLOT_H + bottomH} margin={{ top: M_TOP, right: 0, bottom: 0, left: 0 }}>
        <XAxis
          type="number"
          dataKey="d"
          domain={[DAY_MIN, DAY_MAX]}
          ticks={TICK_DAYS}
          interval={0}
          allowDataOverflow
          height={bottomH}
          tickSize={0}
          tickMargin={0}
          tickLine={false}
          axisLine={{ stroke: '#000', strokeWidth: 4 }}
          tick={(t: any) => <BottomTick {...t} showLabel={last} />}
        />
        <XAxis
          xAxisId="top"
          orientation="top"
          type="number"
          domain={[DAY_MIN, DAY_MAX]}
          ticks={TICK_DAYS}
          interval={0}
          allowDataOverflow
          height={0}
          tickSize={0}
          tickMargin={0}
          tickLine={false}
          axisLine={{ stroke: '#000', strokeWidth: 3 }}
          tick={(t: any) => <TopTick {...t} />}
        />
        <YAxis
          yAxisId="l"
          width={PLOT_LEFT}
          domain={[0, p.lMax]}
          ticks={p.lTicks}
          interval={0}
          allowDataOverflow
          tickSize={0}
          tickMargin={0}
          tickLine={false}
          axisLine={{ stroke: BLUE, strokeWidth: 4 }}
          tick={(t: any) => <LeftTick {...t} />}
        />
        <YAxis
          yAxisId="r"
          orientation="right"
          width={W - PLOT_RIGHT}
          domain={[0, p.rMax]}
          ticks={p.rTicks}
          interval={0}
          allowDataOverflow
          tickSize={0}
          tickMargin={0}
          tickLine={false}
          axisLine={{ stroke: RED, strokeWidth: 4 }}
          tick={(t: any) => <RightTick {...t} />}
        />
        {SHADED.map(([a, b]) => (
          <ReferenceArea key={a} yAxisId="l" x1={a} x2={b} fill={SHADE} fillOpacity={1} stroke="none" ifOverflow="hidden" />
        ))}
        {TICK_DAYS.map((d) => (
          <ReferenceLine key={d} yAxisId="l" x={d} stroke="#000" strokeWidth={2.5} strokeDasharray="6 9" />
        ))}
        <Line
          data={rows(p.ic)}
          dataKey="v"
          name="Infection index Ic"
          yAxisId="l"
          type="linear"
          stroke={BLUE}
          strokeWidth={4}
          dot={false}
          activeDot={false}
          isAnimationActive={false}
          zIndex={600}
        />
        <Line
          data={rows(p.n)}
          dataKey="v"
          name="N̂ PCR,+"
          yAxisId="r"
          type="linear"
          stroke={RED}
          strokeWidth={4}
          dot={false}
          activeDot={false}
          isAnimationActive={false}
          zIndex={610}
        />
        {last && (
          <Legend
            layout="horizontal"
            align="center"
            verticalAlign="middle"
            content={() => <LegendBox />}
            wrapperStyle={{ left: 136, top: 2290 - (top - M_TOP), width: 602, height: 43 }}
          />
        )}
      </ComposedChart>
    </div>
  );
};

const Overlay = () => (
  <svg width={W} height={H} style={{ position: 'absolute', left: 0, top: 0, pointerEvents: 'none' }} fontFamily={FONT}>
    {PERIODS.map((t, i) => (
      <g key={t}>
        <text x={xOf(PERIOD_MID[i])} y={25} textAnchor="middle" fontSize={29} fontWeight="bold">{t}</text>
        <line x1={xOf(PERIOD_SPANS[i][0])} x2={xOf(PERIOD_SPANS[i][1])} y1={35} y2={35} stroke="#000" strokeWidth={6} />
      </g>
    ))}
    {MEASURES.map((t, i) => (
      <g key={t}>
        <text x={xOf(MEASURE_MID[i])} y={68} textAnchor="middle" fontSize={29}>{t}</text>
        <line x1={xOf(MEASURE_SPANS[i][0])} x2={xOf(MEASURE_SPANS[i][1])} y1={77} y2={77} stroke="#000" strokeWidth={6} />
      </g>
    ))}
    {PANELS.map((p, i) => {
      const top = panelTop(i);
      const ly = i < 4 ? top - 24 : top + 2;
      return (
        <g key={p.letter}>
          <text x={38} y={ly} textAnchor="end" dominantBaseline="central" fontSize={32} fontWeight="bold">{p.letter}</text>
          <text x={p.sx} y={top + p.sy} dominantBaseline="central" fontSize={30} fontWeight="bold">{p.station}</text>
          <text
            x={26}
            y={top + PLOT_H / 2}
            transform={`rotate(-90 26 ${top + PLOT_H / 2})`}
            textAnchor="middle"
            fontSize={27}
          >
            Infection index Ic
          </text>
        </g>
      );
    })}
    <text x={1867} y={1594} transform="rotate(-90 1867 1594)" textAnchor="middle" fontSize={28} fill={RED}>
      {'N\u0302'}
      <tspan dy={7} fontSize={20}>PCR,+</tspan>
      <tspan dy={-7} fontSize={28}> (cases / 10</tspan>
      <tspan dy={-11} fontSize={20}>5</tspan>
      <tspan dy={11} fontSize={28}> inhab·km</tspan>
      <tspan dy={-11} fontSize={20}>2</tspan>
      <tspan dy={11} fontSize={28}>)</tspan>
    </text>
    <text x={955} y={2634} textAnchor="middle" fontSize={30} fontWeight="bold">Date (2020-2021)</text>
  </svg>
);

export default function App() {
  return (
    <div style={{ position: 'absolute', left: 0, top: 0, width: W, height: H, background: '#fff', overflow: 'hidden' }}>
      {PANELS.map((p, i) => (
        <PanelChart key={p.letter} p={p} index={i} />
      ))}
      <Overlay />
    </div>
  );
}
